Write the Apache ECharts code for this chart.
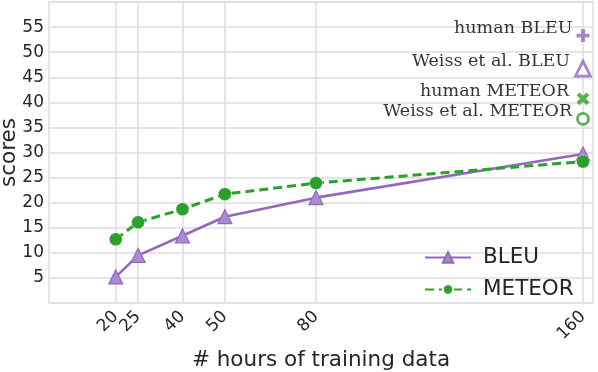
<!DOCTYPE html>
<html>
<head>
<meta charset="utf-8">
<script src="https://cdn.jsdelivr.net/npm/echarts@6/dist/echarts.min.js"></script>
<style>
  html, body { margin: 0; padding: 0; background: #fff; }
  #chart { width: 598px; height: 372px; }
</style>
</head>
<body>
<div id="chart"></div>
<script>
// positions of the training-hour points on the x axis, and their tick labels
const hoursPos = [20, 26.7, 40, 52.7, 80, 160];
const hourLabels = ['20', '25', '40', '50', '80', '160'];

const bleu = [5.2, 9.5, 13.4, 17.2, 21.0, 29.7];
const meteor = [12.7, 16.1, 18.7, 21.7, 23.9, 28.2];

// reference scores drawn at the right edge
const refNames = ['human BLEU', 'Weiss et al. BLEU', 'human METEOR', 'Weiss et al. METEOR'];
const refScores = [53.3, 46.7, 40.7, 36.7];
const refX = 160;

const yTicks = [5, 10, 15, 20, 25, 30, 35, 40, 45, 50, 55];

const PURPLE = '#9467bd';
const GREEN = '#2ca02c';
const GRID = '#dedede';
const TEXT = '#262626';

const plusPath = 'path://M3.5,0H6.5V3.5H10V6.5H6.5V10H3.5V6.5H0V3.5H3.5Z';

const refStyles = [
  { symbol: plusPath, size: 13, rotate: 0, color: PURPLE, fill: true },
  { symbol: 'triangle', size: 15, rotate: 0, color: PURPLE, fill: false },
  { symbol: plusPath, size: 14, rotate: 45, color: GREEN, fill: true },
  { symbol: 'circle', size: 11, rotate: 0, color: GREEN, fill: false }
];

const refSeries = refNames.map((name, i) => {
  const s = refStyles[i];
  return {
    name: name,
    type: 'scatter',
    symbol: s.symbol,
    symbolSize: s.size,
    symbolRotate: s.rotate,
    itemStyle: s.fill
      ? { color: s.color }
      : { color: '#fff', borderColor: s.color, borderWidth: 2.8 },
    label: {
      show: true,
      position: 'left',
      distance: 4,
      offset: [0, -7],
      formatter: name,
      fontFamily: 'DejaVu Serif',
      fontSize: 17.5,
      color: '#000'
    },
    data: [[refX, refScores[i]]],
    z: 5
  };
});

// an empty label at the axis start keeps 20 and 25 from being treated as the min label pair
const labelValues = [0].concat(hoursPos);

const chart = echarts.init(document.getElementById('chart'), null, { renderer: 'canvas' });

chart.setOption({
  animation: false,
  textStyle: { fontFamily: 'DejaVu Sans' },
  grid: {
    left: 49, right: 5, top: 2, bottom: 69,
    containLabel: false,
    outerBoundsMode: 'none',
    show: true, borderColor: GRID, borderWidth: 1.5
  },
  legend: {
    data: ['BLEU', 'METEOR'],
    orient: 'vertical',
    left: 419,
    top: 241,
    itemWidth: 46,
    itemHeight: 13,
    itemGap: 9,
    textStyle: { fontSize: 21.5, color: TEXT, lineHeight: 23, fontFamily: 'DejaVu Sans', padding: [0, 0, 0, 7] }
  },
  xAxis: {
    type: 'value',
    min: 0,
    max: 163,
    name: '# hours of training data',
    nameLocation: 'middle',
    nameGap: 46,
    nameMoveOverlap: false,
    nameTextStyle: { fontSize: 21.5, color: TEXT },
    axisLine: { show: false },
    axisTick: { show: false, customValues: hoursPos },
    axisLabel: {
      customValues: labelValues,
      formatter: v => (hoursPos.indexOf(v) >= 0 ? hourLabels[hoursPos.indexOf(v)] : ''),
      rotate: 45,
      fontSize: 17,
      color: TEXT,
      margin: 11,
      hideOverlap: false
    },
    splitLine: { show: true, lineStyle: { color: GRID, width: 1.5 } }
  },
  yAxis: {
    type: 'value',
    min: 0,
    max: 60,
    interval: 5,
    name: 'scores',
    nameLocation: 'middle',
    nameGap: 29,
    nameMoveOverlap: false,
    nameTextStyle: { fontSize: 21.5, color: TEXT },
    axisLine: { show: false },
    axisTick: { show: false },
    axisLabel: {
      fontSize: 17,
      color: TEXT,
      margin: 5,
      formatter: v => (yTicks.indexOf(v) >= 0 ? String(v) : '')
    },
    splitLine: { show: true, lineStyle: { color: GRID, width: 1.5 } }
  },
  series: [
    {
      name: 'BLEU',
      type: 'line',
      data: hoursPos.map((x, i) => [x, bleu[i]]),
      symbol: 'triangle',
      symbolSize: 14,
      lineStyle: { color: PURPLE, width: 2.6 },
      itemStyle: { color: '#a98bd2', borderColor: PURPLE, borderWidth: 1.2 },
      z: 3
    },
    {
      name: 'METEOR',
      type: 'line',
      data: hoursPos.map((x, i) => [x, meteor[i]]),
      symbol: 'circle',
      symbolSize: 13,
      lineStyle: { color: GREEN, width: 3, type: [9, 5] },
      itemStyle: { color: GREEN, borderColor: 'rgba(255,255,255,0.85)', borderWidth: 1, borderType: 'dotted' },
      z: 3
    }
  ].concat(refSeries)
});

window.addEventListener('resize', () => chart.resize());
</script>
</body>
</html>
